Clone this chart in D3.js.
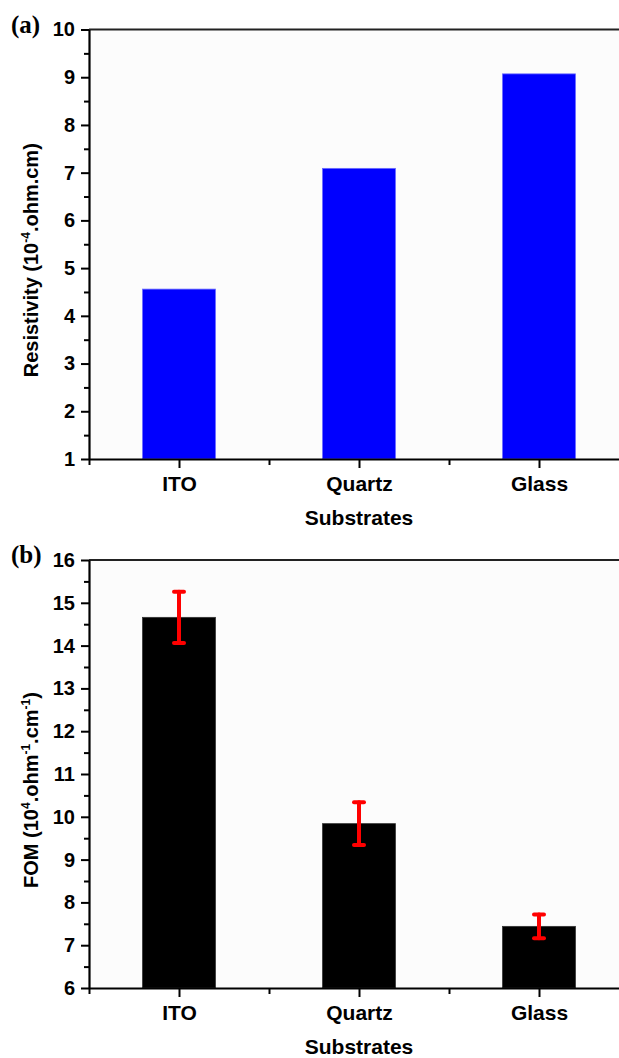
<!DOCTYPE html>
<html>
<head>
<meta charset="utf-8">
<script src="https://cdn.jsdelivr.net/npm/d3@7"></script>
<style>
  body { margin: 0; background: #fff; }
  svg { display: block; }
  .tick text { font-family: "Liberation Sans", Arial, sans-serif; font-weight: bold; }
</style>
</head>
<body>
<svg id="chart" width="619" height="1058"></svg>
<script>
// substrates on the x axis
const substrates = ["ITO", "Quartz", "Glass"];
// (a) resistivity, 10^-4 ohm.cm
const resistivity = [4.56, 7.09, 9.07];
// (b) figure of merit, 10^4 ohm^-1 cm^-1, with error bars
const fom = [14.66, 9.84, 7.44];
const fomErr = [0.6, 0.5, 0.28];
const ticksA = [1, 2, 3, 4, 5, 6, 7, 8, 9, 10];
const ticksB = [6, 7, 8, 9, 10, 11, 12, 13, 14, 15, 16];

const svg = d3.select("#chart");
const left = 89, right = 629;
const font = "'Liberation Sans', Arial, sans-serif";

const x = d3.scaleLinear().domain([0.5, 3.5]).range([left, right]);
const barW = 0.405 * (x(2) - x(1));

function drawPanel(opt) {
    const g = svg.append("g");
    const y = d3.scaleLinear().domain(opt.domain).range([opt.bottom, opt.top]);

    // plot background
    g.append("rect")
        .attr("x", left).attr("y", opt.top)
        .attr("width", 619 - left).attr("height", opt.bottom - opt.top)
        .attr("fill", "#fcfcfc");

    // bars
    g.selectAll(".bar")
        .data(opt.values)
        .join("rect")
        .attr("class", "bar")
        .attr("x", (d, i) => x(i + 1) - barW / 2)
        .attr("width", barW)
        .attr("y", d => y(d))
        .attr("height", d => opt.bottom - y(d))
        .attr("fill", opt.color)
        .attr("stroke", opt.stroke)
        .attr("stroke-width", 0.8);

    // error bars
    if (opt.errors) {
        const eb = g.selectAll(".err")
            .data(opt.values)
            .join("g")
            .attr("class", "err")
            .attr("stroke", "#ff0000")
            .attr("stroke-width", 4)
            .attr("stroke-linecap", "round");
        eb.append("line")
            .attr("x1", (d, i) => x(i + 1)).attr("x2", (d, i) => x(i + 1))
            .attr("y1", (d, i) => y(d + opt.errors[i]))
            .attr("y2", (d, i) => y(d - opt.errors[i]));
        eb.append("line")
            .attr("x1", (d, i) => x(i + 1) - 5).attr("x2", (d, i) => x(i + 1) + 5)
            .attr("y1", (d, i) => y(d + opt.errors[i]))
            .attr("y2", (d, i) => y(d + opt.errors[i]));
        eb.append("line")
            .attr("x1", (d, i) => x(i + 1) - 5).attr("x2", (d, i) => x(i + 1) + 5)
            .attr("y1", (d, i) => y(d - opt.errors[i]))
            .attr("y2", (d, i) => y(d - opt.errors[i]));
    }

    // top frame line
    g.append("line")
        .attr("x1", left).attr("x2", 619)
        .attr("y1", opt.top).attr("y2", opt.top)
        .attr("stroke", "#222").attr("stroke-width", 2);

    // minor y ticks
    const minorY = opt.ticks.slice(0, -1).map(d => d + 0.5);
    g.append("g")
        .attr("transform", `translate(${left},0)`)
        .call(d3.axisLeft(y).tickValues(minorY).tickSize(5).tickFormat(""))
        .call(a => a.select(".domain").remove())
        .selectAll("line").attr("stroke-width", 2);

    // y axis
    g.append("g")
        .attr("transform", `translate(${left},0)`)
        .call(d3.axisLeft(y).tickValues(opt.ticks).tickSize(8).tickSizeOuter(0).tickPadding(6))
        .call(a => a.select(".domain").attr("stroke-width", 2.2))
        .call(a => a.selectAll("line").attr("stroke-width", 2))
        .call(a => a.selectAll("text").attr("font-size", 20).attr("fill", "#000"));

    // minor x ticks
    g.append("g")
        .attr("transform", `translate(0,${opt.bottom})`)
        .call(d3.axisBottom(x).tickValues([0.5, 1.5, 2.5, 3.5]).tickSize(6).tickFormat(""))
        .call(a => a.select(".domain").remove())
        .selectAll("line").attr("stroke-width", 2);

    // x axis
    g.append("g")
        .attr("transform", `translate(0,${opt.bottom})`)
        .call(d3.axisBottom(x).tickValues([1, 2, 3]).tickSize(9).tickSizeOuter(0)
            .tickPadding(8).tickFormat(d => substrates[d - 1]))
        .call(a => a.select(".domain").attr("stroke-width", 2.2))
        .call(a => a.selectAll("line").attr("stroke-width", 2))
        .call(a => a.selectAll("text").attr("font-size", 21).attr("fill", "#000"));

    // x title
    g.append("text")
        .attr("x", x(2))
        .attr("y", opt.bottom + 66)
        .attr("text-anchor", "middle")
        .attr("font-family", font).attr("font-weight", "bold").attr("font-size", 21)
        .text("Substrates");

    // y title
    const yt = g.append("text")
        .attr("transform", `translate(38,${(opt.top + opt.bottom) / 2 + 16}) rotate(-90)`)
        .attr("text-anchor", "middle")
        .attr("font-family", font).attr("font-weight", "bold").attr("font-size", 20);
    opt.title.forEach(p => {
        const t = yt.append("tspan").text(p[0]);
        if (p[1]) t.attr("font-size", 12).attr("baseline-shift", "70%");
    });

    // panel letter
    g.append("text")
        .attr("x", 11).attr("y", opt.top + 3)
        .attr("font-family", "'Liberation Serif', 'Times New Roman', serif")
        .attr("font-weight", "bold").attr("font-size", 25)
        .text(opt.letter);
}

drawPanel({
    letter: "(a)", top: 29.5, bottom: 459, domain: [1, 10], ticks: ticksA,
    values: resistivity, color: "#0000ff", stroke: "#6a6aff",
    title: [["Resistivity (10"], ["-4", true], [".ohm.cm)"]]
});

drawPanel({
    letter: "(b)", top: 560, bottom: 988, domain: [6, 16], ticks: ticksB,
    values: fom, errors: fomErr, color: "#000000", stroke: "#333",
    title: [["FOM (10"], ["4", true], [".ohm"], ["-1", true], [".cm"], ["-1", true], [")"]]
});
</script>
</body>
</html>
